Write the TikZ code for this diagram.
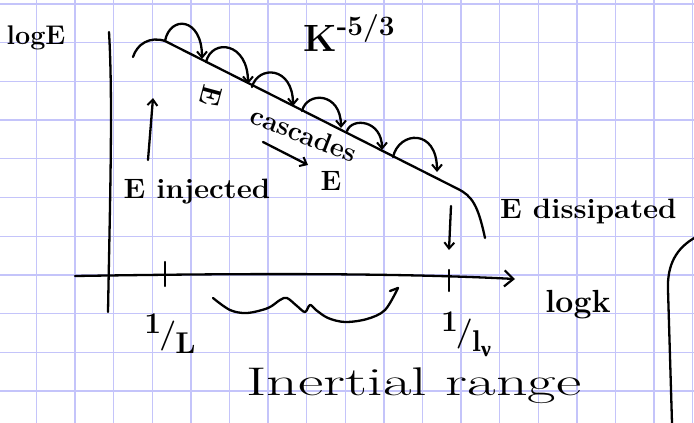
\documentclass[tikz,border=0pt]{standalone}
\usepackage{fontspec}
\newfontfamily\grk{Liberation Serif}
\usetikzlibrary{arrows.meta}
\definecolor{gridc}{RGB}{196,196,250}
\newcommand{\fs}[1]{\fontsize{#1}{#1}\selectfont\bfseries}
\begin{document}
\begin{tikzpicture}[x=1pt,y=-1pt,
  ink/.style={line width=2.3pt, line cap=round, line join=round},
  barb/.style={-{Straight Barb[length=6pt,width=10pt,line width=2pt]}},
  lbl/.style={inner sep=0pt, text=black}]
\useasboundingbox (0,0) rectangle (694,423);
\fill[white] (0,0) rectangle (694,423);
% grid paper
\foreach \i in {0,...,17} \draw[gridc, line width=1.3pt] ({36.5+38.6*\i},0) -- ({36.5+38.6*\i},423);
\foreach \j in {0,...,10} \draw[gridc, line width=1.3pt] (0,{4+38.7*\j}) -- (694,{4+38.7*\j});

% axes
\coordinate (ytop) at (109,32);
\coordinate (ybot) at (108,312);
\coordinate (xl) at (75,276);
\coordinate (xr) at (515,279);
\draw[ink] (ytop) .. controls (113,100) and (110,200) .. (ybot);
\draw[ink,-{Straight Barb[length=9pt,width=16pt,line width=2.2pt]}] (xl) .. controls (200,274) and (380,272) .. (xr);
% ticks
\coordinate (t1a) at (165,262); \coordinate (t1b) at (165,286);
\coordinate (t2a) at (449,270); \coordinate (t2b) at (449,291);
\draw[ink] (t1a) -- (t1b);
\draw[ink] (t2a) -- (t2b);

% spectrum
\coordinate (s0) at (133,57);
\coordinate (s1) at (165,41);
\coordinate (s2) at (458,189);
\coordinate (s3) at (485,238);
\draw[ink] (s0) .. controls (137,44) and (150,36) .. (s1) -- (s2) .. controls (472,196) and (478,205) .. (s3);

% cascade hops
\coordinate (h1s) at (165,41);  \coordinate (h1e) at (202,59);
\coordinate (h2s) at (206,62);  \coordinate (h2e) at (248,84);
\coordinate (h3s) at (252,87);  \coordinate (h3e) at (293,106);
\coordinate (h4s) at (302,111); \coordinate (h4e) at (341,128);
\coordinate (h5s) at (347,131); \coordinate (h5e) at (382,150);
\coordinate (h6s) at (393,157); \coordinate (h6e) at (437,172);
\draw[ink,barb] (h1s) .. controls +(5,-26) and +(0,-42) .. (h1e);
\draw[ink,barb] (h2s) .. controls +(6,-24) and +(0,-42) .. (h2e);
\draw[ink,barb] (h3s) .. controls +(6,-22) and +(0,-40) .. (h3e);
\draw[ink,barb] (h4s) .. controls +(5,-20) and +(0,-36) .. (h4e);
\draw[ink,barb] (h5s) .. controls +(5,-14) and +(0,-30) .. (h5e);
\draw[ink,barb] (h6s) .. controls +(6,-26) and +(0,-44) .. (h6e);

% injection, cascade, dissipation arrows
\coordinate (injA) at (148,160); \coordinate (injB) at (153,98);
\draw[ink,barb] (injA) -- (injB);
\coordinate (casA) at (263,142); \coordinate (casB) at (308,165);
\draw[ink,barb] (casA) -- (casB);
\coordinate (disA) at (451,206); \coordinate (disB) at (449,250);
\draw[ink,barb] (disA) -- (disB);

% under-brace squiggle
\coordinate (bl) at (213,298); \coordinate (br) at (398,288);
\draw[ink] plot[smooth, tension=0.55] coordinates {(bl) (230,310) (247,313) (268,308) (280,300) (287,298) (297,306) (305,312) (310,305) (316,310) (328,318) (345,322) (367,319) (385,310) (br)};
\draw[ink] (br) -- (390,291);

% right edge partial curve
\coordinate (pa) at (696,237); \coordinate (pb) at (672,423);
\draw[ink] (pa) .. controls (676,248) and (667,265) .. (668,290) -- (pb);

% labels
\node[lbl] (logE) at (36,38) {\fs{27}logE};
\node[lbl] (kexp) at (349,33) {\fs{38}K\raisebox{16pt}{\fs{28}-5/3}};
\node[lbl, rotate=-105] (erot) at (211,96) {\fs{28}E};
\node[lbl, rotate=-21] (casc) at (304,134) {\fs{27}cascades};
\node[lbl] (elow) at (331,181) {\fs{28}E};
\node[lbl] (einj) at (197,192) {\fs{28}\scalebox{1.05}[1]{E injected}};
\node[lbl, anchor=west] (ediss) at (500,211) {\fs{28}\scalebox{1.05}[1]{E dissipated}};
\node[lbl] (invL) at (170,334) {\fs{30}\raisebox{10pt}{1}\kern-2pt/\kern-1pt\raisebox{-10pt}{L}};
\node[lbl] (invl) at (466,334) {\fs{30}\raisebox{10pt}{1}\kern-2pt/\kern-1pt\raisebox{-10pt}{l\raisebox{-5pt}{\fs{22}\grk ν}}};
\node[lbl] (logk) at (578,305) {\fs{32}logk};
\node[lbl] (iner) at (414,386) {\fontsize{40}{40}\selectfont\scalebox{1.55}[1]{Inertial range}};
\end{tikzpicture}
\end{document}
